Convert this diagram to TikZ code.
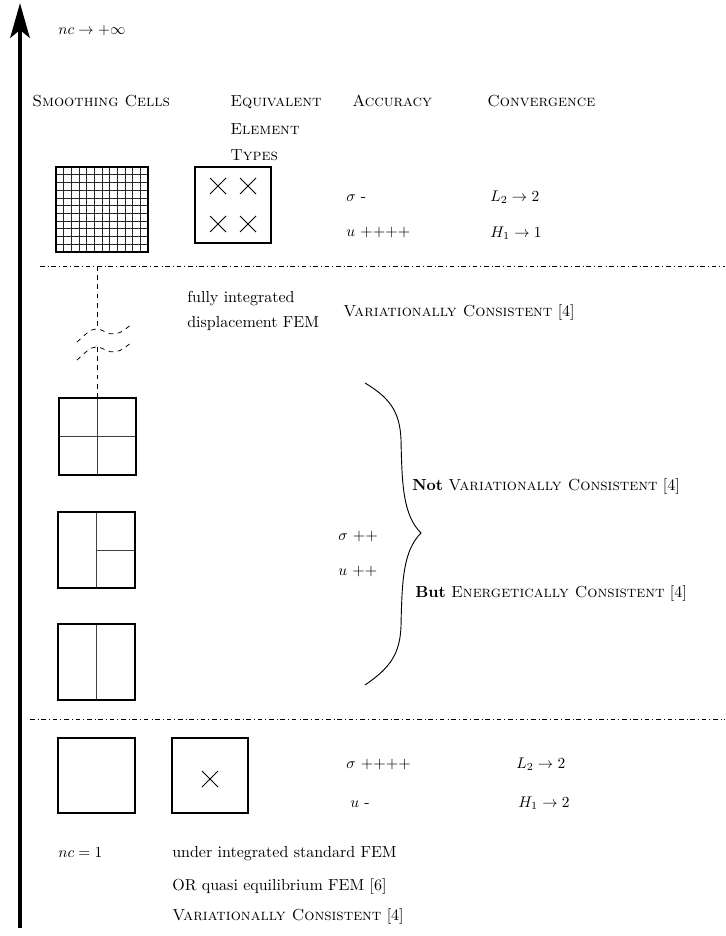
\documentclass[tikz,border=0pt]{standalone}
\usetikzlibrary{arrows.meta}
\begin{document}
\begin{tikzpicture}[x=0.65pt,y=-0.65pt,
  lbl/.style={anchor=base west, inner sep=0pt, font=\fontsize{10.4}{12}\selectfont},
  cellbox/.style={line width=1.8pt},
  innerl/.style={line width=0.6pt, black!75},
  gridl/.style={line width=0.5pt, black!85},
  sepline/.style={dash dot, line width=0.5pt},
  dashl/.style={dashed, line width=0.5pt},
  xmark/.style={line width=0.5pt}]
\useasboundingbox (0,0) rectangle (725,936);

% axis arrow
\coordinate (abot) at (20,928);
\coordinate (atop) at (20,3);
\draw[line width=3.2pt, -{Stealth[length=22.5pt, width=12.5pt, inset=5pt]}] (abot) -- (atop);

% texts
\node[lbl] (ninf) at (58,35) {$nc \rightarrow +\infty$};
\node[lbl] (hsc) at (32,107) {\textsc{Smoothing Cells}};
\node[lbl] (heqa) at (230,107) {\textsc{Equivalent}};
\node[lbl] (heqb) at (230,134) {\textsc{Element}};
\node[lbl] (heqc) at (230,160) {\textsc{Types}};
\node[lbl] (hacc) at (352,107) {\textsc{Accuracy}};
\node[lbl] (hconv) at (487,107) {\textsc{Convergence}};

\node[lbl] (sa) at (346,201) {$\sigma$ -};
\node[lbl] (ua) at (346,236) {$u$ ++++};
\node[lbl] (la) at (490,201) {$L_2 \rightarrow 2$};
\node[lbl] (ha) at (490,237) {$H_1 \rightarrow 1$};

\node[lbl] (fia) at (187,302) {fully integrated};
\node[lbl] (fib) at (187,327) {displacement FEM};
\node[lbl] (vca) at (343,316) {\textsc{Variationally Consistent} [4]};

\node[lbl] (nvc) at (412,490) {\textbf{Not} \textsc{Variationally Consistent} [4]};
\node[lbl] (bec) at (415,597) {\textbf{But} \textsc{Energetically Consistent} [4]};
\node[lbl] (sb) at (338,540) {$\sigma$ ++};
\node[lbl] (ub) at (338,575) {$u$ ++};

\node[lbl] (sc) at (346,768) {$\sigma$ ++++};
\node[lbl] (uc) at (350,807) {$u$ -};
\node[lbl] (lc) at (516,768) {$L_2 \rightarrow 2$};
\node[lbl] (hc) at (518,807) {$H_1 \rightarrow 2$};

\node[lbl] (none) at (58,857) {$nc = 1$};
\node[lbl] (uia) at (172,857) {under integrated standard FEM};
\node[lbl] (uib) at (172,890) {OR quasi equilibrium FEM [6]};
\node[lbl] (uic) at (172,920) {\textsc{Variationally Consistent} [4]};

% fine grid cell
\foreach \i in {1,...,11} \draw[gridl] ({56+\i*92/12},167) -- ({56+\i*92/12},252);
\foreach \j in {1,...,10} \draw[gridl] (56,{167+\j*85/11}) -- (148,{167+\j*85/11});
\draw[cellbox] (56,167) rectangle (148,252);

% element with 4 gauss points
\draw[cellbox] (195,167) rectangle (271,243);
\foreach \cx/\cy in {218/186, 248/186, 218/224, 248/224}
  \draw[xmark] (\cx-8,\cy-8) -- (\cx+8,\cy+8) (\cx-8,\cy+8) -- (\cx+8,\cy-8);

% separators
\draw[sepline] (40,266) -- (725,266);
\draw[sepline] (30,719) -- (725,719);

% dashed break
\draw[dashl] (97,266) -- (97,328);
\draw[dashl] (97,347) -- (97,398);
\draw[dashl] (77,342) .. controls (85,335) and (90,329) .. (96,329) .. controls (103,329) and (108,335) .. (115,334) .. controls (122,333) and (128,327) .. (133,323);
\draw[dashl] (77,360) .. controls (85,353) and (90,347) .. (96,347) .. controls (103,347) and (108,353) .. (115,352) .. controls (122,351) and (128,345) .. (133,341);

% 4 cells
\draw[innerl] (97.5,398) -- (97.5,475) (59,436.5) -- (136,436.5);
\draw[cellbox] (59,398) rectangle (136,475);
% 3 cells
\draw[innerl] (96.5,512) -- (96.5,588) (96.5,550) -- (135,550);
\draw[cellbox] (58,512) rectangle (135,588);
% 2 cells
\draw[innerl] (96.5,624) -- (96.5,700);
\draw[cellbox] (58,624) rectangle (135,700);

% brace
\draw[line width=0.6pt] (365,383) .. controls (390,398) and (400,412) .. (401,440)
  .. controls (402,485) and (403,515) .. (421,533)
  .. controls (403,551) and (402,581) .. (401,626)
  .. controls (400,654) and (390,668) .. (365,685);

% one cell
\draw[cellbox] (58,738) rectangle (135,813);
\draw[cellbox] (172,738) rectangle (248,813);
\draw[xmark] (202,771) -- (218,787) (202,787) -- (218,771);
\end{tikzpicture}
\end{document}
